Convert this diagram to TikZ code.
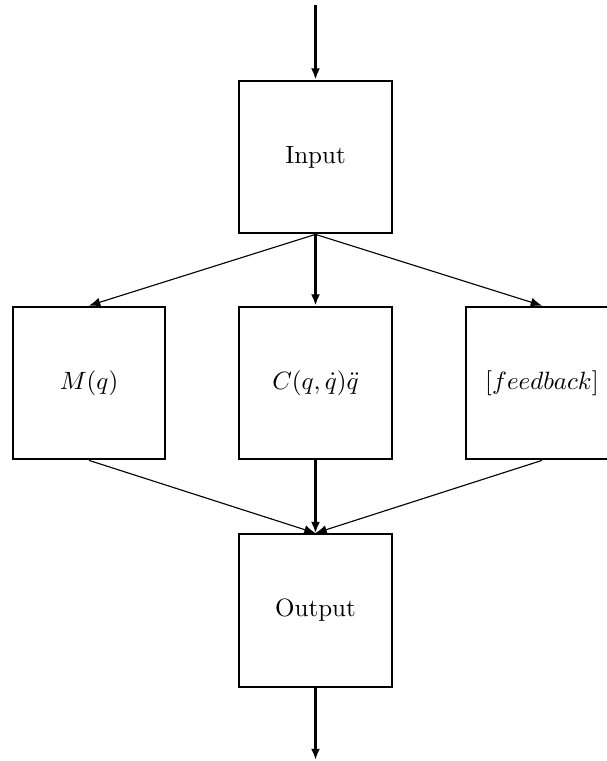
\documentclass[tikz,border=0pt]{standalone}
\usetikzlibrary{arrows.meta}
\begin{document}
\begin{tikzpicture}[x=0.4pt,y=-0.4pt,
  blk/.style={draw,line width=0.9pt,minimum width=61pt,minimum height=61pt,inner sep=0pt,font=\normalsize},
  vline/.style={line width=0.9pt,-{Latex[length=4.5pt,width=3.6pt]}},
  dline/.style={line width=0.45pt,-{Latex[length=4.5pt,width=3.6pt]}}]
\useasboundingbox (0,0) rectangle (607,761);
\node[blk] (in) at (315.5,157) {Input};
\node[blk] (m) at (89,383) {$M(q)$};
\node[blk] (c) at (315.5,383) {$C(q,\dot q)\ddot q$};
\node[blk] (f) at (542,383) {$[feedback]$};
\node[blk] (out) at (315.5,610.5) {Output};
\coordinate (top) at (315.5,5);
\coordinate (bot) at (315.5,760);
\draw[vline] (top) -- (in.north);
\draw[dline] (in.south) -- (m.north);
\draw[vline] (in.south) -- (c.north);
\draw[dline] (in.south) -- (f.north);
\draw[dline] (m.south) -- (out.north);
\draw[vline] (c.south) -- (out.north);
\draw[dline] (f.south) -- (out.north);
\draw[vline] (out.south) -- (bot);
\end{tikzpicture}
\end{document}
